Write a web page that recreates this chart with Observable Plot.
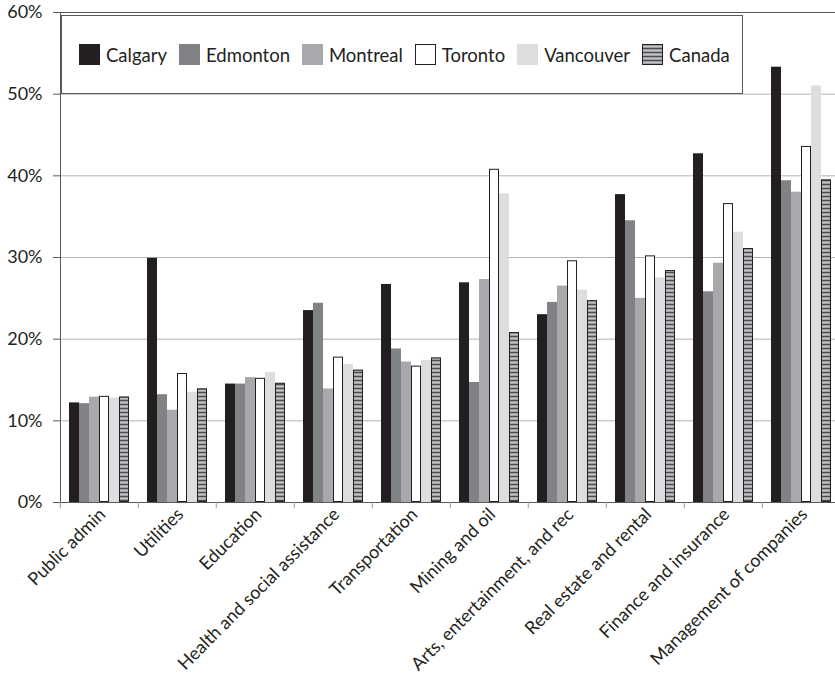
<!DOCTYPE html>
<html>
<head>
<meta charset="utf-8">
<script src="https://cdn.jsdelivr.net/npm/d3@7"></script>
<script src="https://cdn.jsdelivr.net/npm/@observablehq/plot@0.6"></script>
<style>
  html, body { margin: 0; padding: 0; background: #fff; overflow: hidden; }
  #chart { position: relative; width: 845px; height: 680px; font-family: Lato, "Open Sans", sans-serif; color: #231f20; }
  #chart svg { display: block; }
  #legend {
    position: absolute; left: 61px; top: 15px; width: 682px; height: 79px;
    box-sizing: border-box; border: 1px solid #58595b; background: #fff;
    display: flex; align-items: center; padding-left: 17px;
    font-size: 18.5px; white-space: nowrap;
  }
  #legend .item { display: flex; align-items: center; margin-right: 12px; }
  #legend svg { margin-right: 6px; }
</style>
</head>
<body>
<div id="chart"></div>
<script>
// Industries along the x axis
const categories = [
  "Public admin", "Utilities", "Education", "Health and social assistance",
  "Transportation", "Mining and oil", "Arts, entertainment, and rec",
  "Real estate and rental", "Finance and insurance", "Management of companies"
];

// Cities (plus the national figure) shown side by side in each industry
const series = ["Calgary", "Edmonton", "Montreal", "Toronto", "Vancouver", "Canada"];

// Share (%) for each industry, one array per series
const calgary   = [12.2, 29.9, 14.5, 23.5, 26.7, 26.9, 23.0, 37.7, 42.7, 53.3];
const edmonton  = [12.1, 13.2, 14.5, 24.4, 18.8, 14.7, 24.5, 34.5, 25.8, 39.4];
const montreal  = [12.9, 11.3, 15.3, 13.9, 17.2, 27.3, 26.5, 25.0, 29.3, 38.0];
const toronto   = [13.0, 15.8, 15.2, 17.8, 16.7, 40.8, 29.6, 30.2, 36.6, 43.6];
const vancouver = [12.8, 13.5, 15.9, 16.9, 17.4, 37.8, 26.0, 27.5, 33.1, 51.0];
const canada    = [12.9, 13.9, 14.6, 16.2, 17.7, 20.8, 24.7, 28.4, 31.1, 39.5];

// Y axis ticks (%)
const yTicks = [0, 10, 20, 30, 40, 50, 60];

const valuesBySeries = [calgary, edmonton, montreal, toronto, vancouver, canada];
const fills = ["#231f20", "#808285", "#a7a9ac", "#ffffff", "#dcddde", "url(#canada-stripes)"];
const outlined = new Set(["Toronto", "Canada"]);

const rows = [];
series.forEach((s, i) => {
  categories.forEach((c, j) => rows.push({category: c, series: s, value: valuesBySeries[i][j]}));
});

const W = 845, marginLeft = 57, marginRight = 3;
const bandwidth = (W - marginLeft - marginRight) / categories.length;

const chart = Plot.plot({
  width: W,
  height: 680,
  marginTop: 12,
  marginBottom: 178,
  marginLeft,
  marginRight,
  style: {fontFamily: "Lato, 'Open Sans', sans-serif", color: "#231f20", background: "#fff"},
  fx: {domain: categories, padding: 0, label: null},
  x: {domain: series, paddingInner: 0, paddingOuter: 0.63, axis: null},
  y: {domain: [0, 60], label: null},
  color: {domain: series, range: fills},
  marks: [
    Plot.gridY(yTicks.filter(t => t > 0 && t < 60), {stroke: "#b3b3b3", strokeOpacity: 1}),
    Plot.barY(rows, {fx: "category", x: "series", y: "value", fill: "series"}),
    Plot.barY(rows.filter(d => outlined.has(d.series)), {
      fx: "category", x: "series", y: "value", fill: "none", stroke: "#231f20", inset: 0.5
    }),
    Plot.frame({facet: "super", stroke: "#58595b"}),
    Plot.axisY({
      ticks: yTicks, tickFormat: d => d + "%", tickSize: 7, tickPadding: 11,
      fontSize: 18, stroke: "#58595b", label: null
    }),
    // short ticks on the boundaries between industries
    Plot.axisFx({
      anchor: "bottom", tickSize: 6, tickFormat: () => "", dx: -bandwidth / 2,
      stroke: "#999", label: null
    }),
    Plot.axisFx({
      anchor: "bottom", tickSize: 0, tickPadding: 9, tickRotate: -45,
      fontSize: 18, dx: 3, label: null
    })
  ]
});

// Striped fill used for the national series
const ns = "http://www.w3.org/2000/svg";
function stripeDefs() {
  const defs = document.createElementNS(ns, "defs");
  const pat = document.createElementNS(ns, "pattern");
  pat.setAttribute("id", "canada-stripes");
  pat.setAttribute("patternUnits", "userSpaceOnUse");
  pat.setAttribute("width", 8);
  pat.setAttribute("height", 4);
  [["#9d9fa2", 0, 4], ["#4d4d4f", 0, 1], ["#c3c4c6", 2, 1]].forEach(([c, y, h]) => {
    const r = document.createElementNS(ns, "rect");
    r.setAttribute("x", 0); r.setAttribute("y", y);
    r.setAttribute("width", 8); r.setAttribute("height", h);
    r.setAttribute("fill", c);
    pat.appendChild(r);
  });
  defs.appendChild(pat);
  return defs;
}
chart.insertBefore(stripeDefs(), chart.firstChild);

const root = document.getElementById("chart");
root.appendChild(chart);

// Legend box in the upper part of the plot area
const legend = document.createElement("div");
legend.id = "legend";
series.forEach((s, i) => {
  const item = document.createElement("div");
  item.className = "item";
  const sw = document.createElementNS(ns, "svg");
  sw.setAttribute("width", 21); sw.setAttribute("height", 21);
  const r = document.createElementNS(ns, "rect");
  const o = outlined.has(s);
  r.setAttribute("x", o ? 0.5 : 0); r.setAttribute("y", o ? 0.5 : 0);
  r.setAttribute("width", o ? 20 : 21); r.setAttribute("height", o ? 20 : 21);
  r.setAttribute("fill", fills[i]);
  if (o) r.setAttribute("stroke", "#231f20");
  sw.appendChild(r);
  item.appendChild(sw);
  const t = document.createElement("span");
  t.textContent = s;
  item.appendChild(t);
  legend.appendChild(item);
});
root.appendChild(legend);
</script>
</body>
</html>
